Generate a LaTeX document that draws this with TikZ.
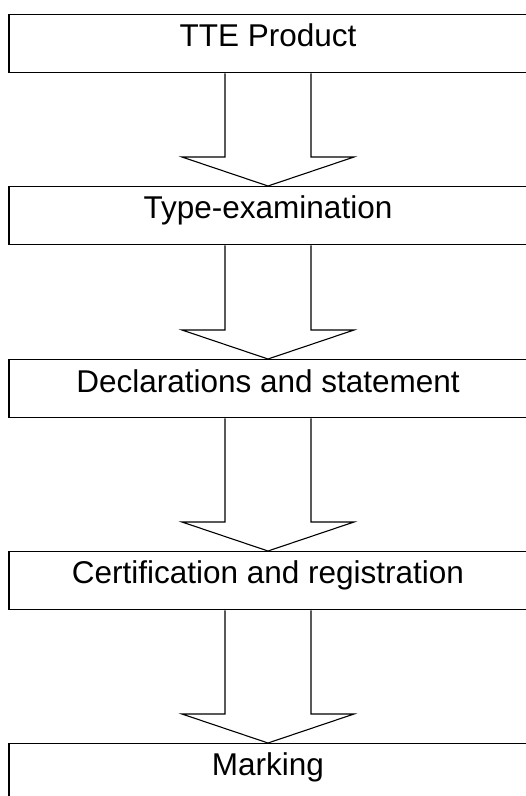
\documentclass[tikz,border=0pt]{standalone}
\usepackage{fontspec}
\setmainfont{Liberation Sans}
\usetikzlibrary{calc}

\begin{document}
\begin{tikzpicture}[x=1pt, y=-1pt,
        stagebox/.style={rectangle, draw=black, line width=1.4pt, minimum width=518pt, minimum height=58pt, inner sep=0pt, anchor=north},
        stagetext/.style={anchor=base, inner sep=0pt, font=\fontsize{31.5}{36}\selectfont},
        blockarrow/.style={draw=black, line width=1.1pt, line join=miter},
        ]
            \useasboundingbox (0,0) rectangle (526,796);

            \node[stagebox] at (268,14)  (product) {};
            \node[stagebox] at (268,186) (typeexam) {};
            \node[stagebox] at (268,359) (declar) {};
            \node[stagebox] at (268,551) (certif) {};
            \node[stagebox] at (268,743) (marking) {};

            \node[stagetext] at ($(product.north)+(0,32)$)  (productlbl) {TTE Product};
            \node[stagetext] at ($(typeexam.north)+(0,32)$) (typeexamlbl) {Type-examination};
            \node[stagetext] at ($(declar.north)+(0,33)$)   (declarlbl) {Declarations and statement};
            \node[stagetext] at ($(certif.north)+(0,32)$)   (certiflbl) {Certification and registration};
            \node[stagetext] at ($(marking.north)+(0,32)$)  (markinglbl) {Marking};

            % hollow block arrows between the stages
            \foreach \from/\to in {product/typeexam, typeexam/declar, declar/certif, certif/marking}
                \draw[blockarrow] ($(\from.south)+(-43,0)$) -- ($(\to.north)+(-43,-29)$)
                    -- ($(\to.north)+(-86,-29)$) -- (\to.north) -- ($(\to.north)+(86,-29)$)
                    -- ($(\to.north)+(43,-29)$) -- ($(\from.south)+(43,0)$);

\end{tikzpicture}
\end{document}
